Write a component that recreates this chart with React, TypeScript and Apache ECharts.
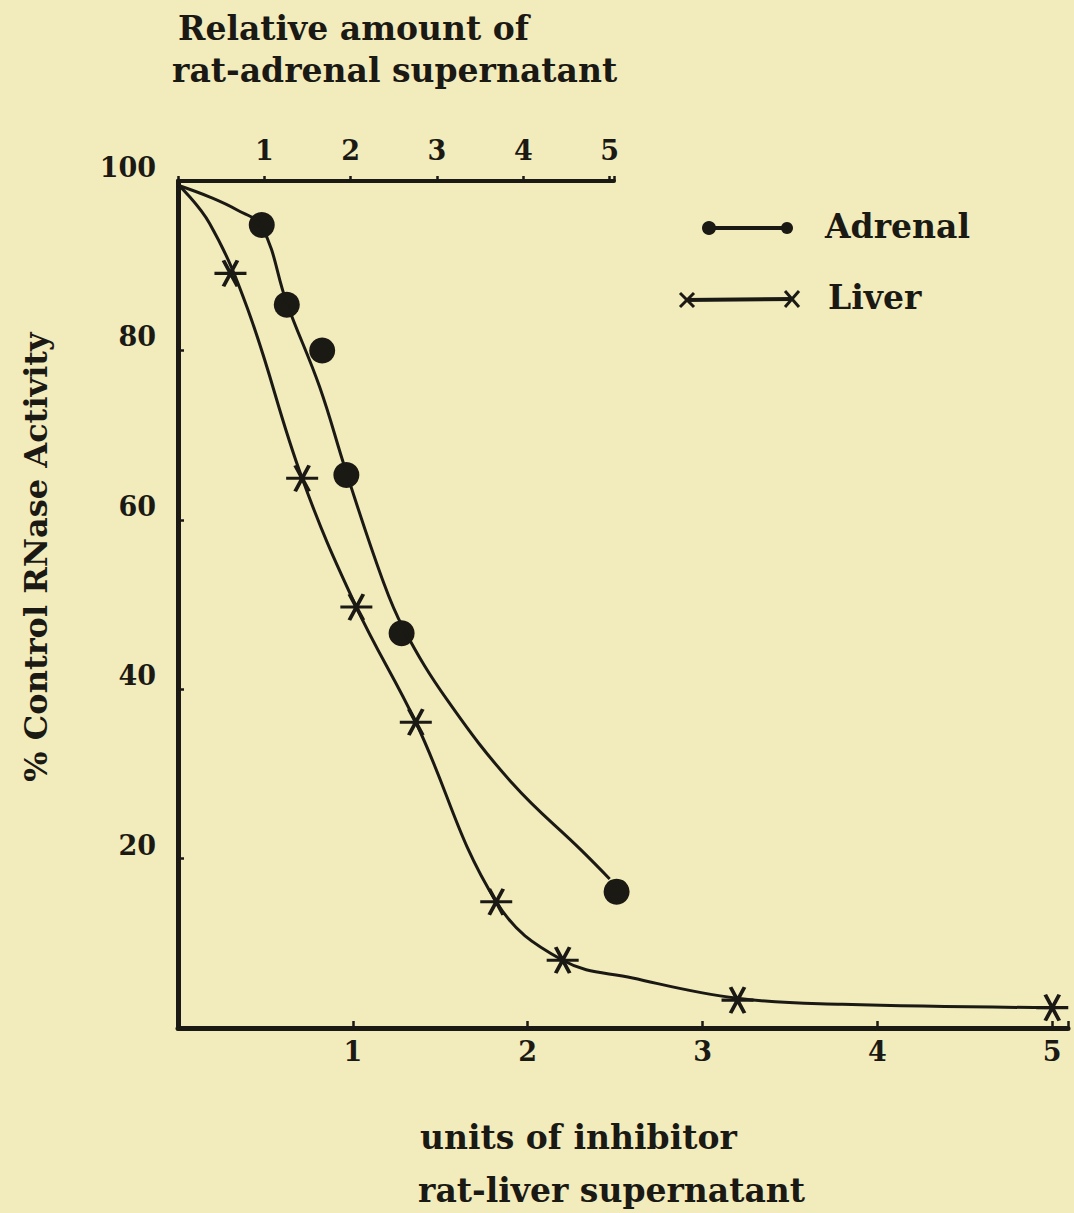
import React, { useEffect, useRef } from "react";
import * as echarts from "echarts";

// Liver (bottom axis: units of inhibitor, rat-liver supernatant)
const liverX = [0.3, 0.71, 1.02, 1.36, 1.82, 2.2, 3.2, 5.0];
const liverY = [89.1, 64.9, 49.7, 36.1, 14.9, 8.0, 3.3, 2.4];
// Hand-drawn liver curve
const liverCurveX = [0, 0.18, 0.4, 0.71, 1.02, 1.36, 1.82, 2.2, 2.6, 3.2, 3.8, 5.0];
const liverCurveY = [99.6, 95.0, 84.8, 64.9, 49.7, 36.1, 14.9, 8.0, 5.9, 3.5, 2.8, 2.4];

// Adrenal (top axis: relative amount of rat-adrenal supernatant)
const adrenalX = [0.97, 1.26, 1.67, 1.95, 2.59, 5.08];
const adrenalY = [94.8, 85.4, 80.0, 65.3, 46.6, 16.1];
// Hand-drawn adrenal curve
const adrenalCurveX = [0, 0.37, 0.68, 0.97, 1.26, 1.64, 1.95, 2.37, 2.61, 3.12, 3.88, 4.67, 5.0];
const adrenalCurveY = [99.5, 98.1, 96.6, 94.6, 85.6, 75.7, 65.6, 52.9, 47.2, 38.7, 28.8, 21.0, 17.6];

const bottomTicks = [1, 2, 3, 4, 5];
const topTicks = [1, 2, 3, 4, 5];
const yTicks = [20, 40, 60, 80, 100];

const INK = "#1b1914";
const BG = "#f2ebbc";
const FONT = "DejaVu Serif";

const starPath = "path://M-16,0L16,0M-7,-13L7,13M7,-13L-7,13";

export default function App() {
  const ref = useRef<HTMLDivElement>(null);
  useEffect(() => {
    document.body.style.margin = "0";
    const chart = echarts.init(ref.current!, null, { renderer: "svg" });
    const zip = (xs: number[], ys: number[]) => xs.map((x, i) => [x, ys[i]]);
    const textStyle = (size: number) => ({
      fontFamily: FONT,
      fontWeight: "bold",
      fontSize: size,
      color: INK,
    });
    const txt = (text: string, x: number, y: number, size: number, extra: any = {}) => ({
      type: "text",
      x,
      y,
      ...extra,
      style: {
        text,
        font: `bold ${size}px "${FONT}"`,
        fill: INK,
        textAlign: extra.align || "left",
        textVerticalAlign: "middle",
      },
    });
    chart.setOption({
      animation: false,
      backgroundColor: BG,
      grid: [
        { left: 178, top: 181, width: 890, height: 847 },
        { left: 178, top: 181, width: 436, height: 847 },
      ],
      xAxis: [
        {
          gridIndex: 0,
          type: "value",
          min: 0,
          max: 5.09,
          interval: 1,
          position: "bottom",
          splitLine: { show: false },
          axisLine: { onZero: false, lineStyle: { color: INK, width: 5 } },
          axisTick: { inside: true, length: 7, lineStyle: { color: INK, width: 2.5 } },
          axisLabel: {
            ...textStyle(27),
            margin: 10,
            formatter: (v: number) => (bottomTicks.includes(v) ? String(v) : ""),
          },
        },
        {
          gridIndex: 1,
          type: "value",
          min: 0,
          max: 5.05,
          interval: 1,
          position: "top",
          splitLine: { show: false },
          axisLine: { onZero: false, lineStyle: { color: INK, width: 4 } },
          axisTick: { inside: false, length: 5, lineStyle: { color: INK, width: 2.5 } },
          axisLabel: {
            ...textStyle(27),
            margin: 17,
            formatter: (v: number) => (topTicks.includes(v) ? String(v) : ""),
          },
        },
      ],
      yAxis: [
        {
          gridIndex: 0,
          type: "value",
          min: 0,
          max: 100,
          interval: 20,
          splitLine: { show: false },
          axisLine: { onZero: false, lineStyle: { color: INK, width: 5 } },
          axisTick: { inside: true, length: 6, lineStyle: { color: INK, width: 2.5 } },
          axisLabel: {
            ...textStyle(27),
            margin: 22,
            verticalAlign: "bottom",
            formatter: (v: number) => (yTicks.includes(v) ? String(v) : ""),
          },
        },
        {
          gridIndex: 1,
          type: "value",
          min: 0,
          max: 100,
          show: false,
        },
      ],
      series: [
        {
          name: "Liver curve",
          type: "line",
          xAxisIndex: 0,
          yAxisIndex: 0,
          data: zip(liverCurveX, liverCurveY),
          smooth: 0.4,
          symbol: "none",
          clip: false,
          lineStyle: { color: INK, width: 3 },
        },
        {
          name: "Liver",
          type: "scatter",
          xAxisIndex: 0,
          yAxisIndex: 0,
          data: zip(liverX, liverY),
          clip: false,
          symbol: starPath,
          symbolSize: [32, 26],
          itemStyle: { color: INK, borderColor: INK, borderWidth: 3.5, opacity: 1 },
        },
        {
          name: "Adrenal curve",
          type: "line",
          xAxisIndex: 1,
          yAxisIndex: 1,
          data: zip(adrenalCurveX, adrenalCurveY),
          smooth: 0.4,
          symbol: "none",
          clip: false,
          lineStyle: { color: INK, width: 3 },
        },
        {
          name: "Adrenal",
          type: "scatter",
          xAxisIndex: 1,
          yAxisIndex: 1,
          data: zip(adrenalX, adrenalY),
          clip: false,
          symbol: "circle",
          symbolSize: 26,
          itemStyle: { color: INK, opacity: 1 },
        },
      ],
      graphic: [
        txt("Relative amount of", 178, 28, 33),
        txt("rat-adrenal supernatant", 172, 70, 33),
        txt("units of inhibitor", 420, 1137, 33),
        txt("rat-liver supernatant", 418, 1190, 33),
        txt("% Control RNase Activity", 36, 557, 32, { rotation: Math.PI / 2, align: "center" }),
        // legend
        { type: "line", shape: { x1: 707, y1: 228, x2: 788, y2: 228 }, style: { stroke: INK, lineWidth: 4 } },
        { type: "circle", shape: { cx: 709, cy: 228, r: 7 }, style: { fill: INK } },
        { type: "circle", shape: { cx: 787, cy: 228, r: 6 }, style: { fill: INK } },
        txt("Adrenal", 825, 226, 33),
        { type: "line", shape: { x1: 685, y1: 300, x2: 793, y2: 299 }, style: { stroke: INK, lineWidth: 4 } },
        { type: "line", shape: { x1: 680, y1: 293, x2: 694, y2: 307 }, style: { stroke: INK, lineWidth: 3 } },
        { type: "line", shape: { x1: 680, y1: 307, x2: 694, y2: 293 }, style: { stroke: INK, lineWidth: 3 } },
        { type: "line", shape: { x1: 785, y1: 291, x2: 799, y2: 307 }, style: { stroke: INK, lineWidth: 3 } },
        { type: "line", shape: { x1: 785, y1: 307, x2: 799, y2: 291 }, style: { stroke: INK, lineWidth: 3 } },
        txt("Liver", 828, 297, 33),
      ],
    });
    return () => chart.dispose();
  }, []);
  return <div ref={ref} style={{ width: 1074, height: 1213, background: BG }} />;
}
